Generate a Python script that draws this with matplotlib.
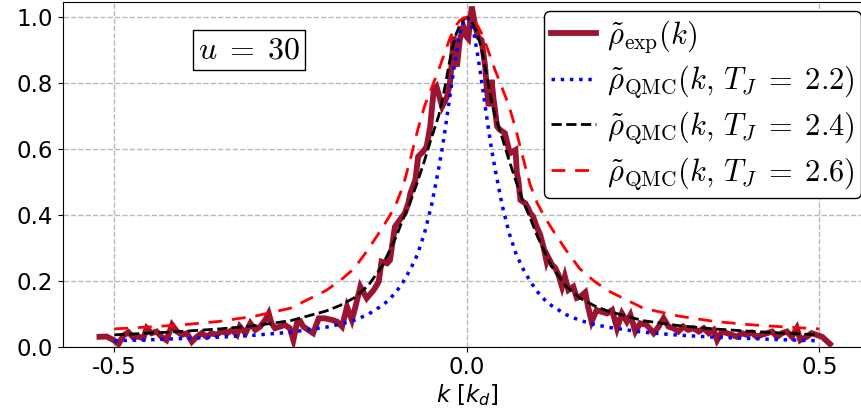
import numpy as np
import matplotlib
matplotlib.use("Agg")
import matplotlib.pyplot as plt

plt.rcParams["axes.unicode_minus"] = False
plt.rcParams["mathtext.fontset"] = "dejavusans"

# Measured momentum distribution (noisy)
k_exp = [-0.521, -0.511, -0.501, -0.494, -0.487, -0.480, -0.473, -0.466, -0.459, -0.454,
         -0.447, -0.440, -0.433, -0.426, -0.418, -0.411, -0.404, -0.397, -0.390, -0.383,
         -0.376, -0.369, -0.362, -0.355, -0.348, -0.340, -0.333, -0.326, -0.322, -0.314,
         -0.307, -0.300, -0.293, -0.286, -0.281, -0.277, -0.272, -0.265, -0.258, -0.251,
         -0.246, -0.241, -0.236, -0.232, -0.225, -0.218, -0.210, -0.201, -0.191, -0.184,
         -0.177, -0.170, -0.163, -0.158, -0.151, -0.142, -0.132, -0.125, -0.121, -0.113,
         -0.109, -0.104, -0.102, -0.095, -0.088, -0.083, -0.080, -0.073, -0.069, -0.062,
         -0.057, -0.052, -0.047, -0.043, -0.035, -0.028, -0.024, -0.021, -0.019, -0.014,
         -0.010, -0.005, 0.000, 0.002, 0.007, 0.012, 0.016, 0.021, 0.026, 0.028,
         0.031, 0.033, 0.035, 0.038, 0.043, 0.047, 0.054, 0.061, 0.069, 0.071,
         0.073, 0.076, 0.083, 0.087, 0.090, 0.094, 0.099, 0.104, 0.109, 0.113,
         0.115, 0.121, 0.125, 0.130, 0.135, 0.139, 0.144, 0.151, 0.156, 0.161,
         0.168, 0.172, 0.177, 0.184, 0.191, 0.199, 0.206, 0.213, 0.220, 0.227,
         0.232, 0.239, 0.246, 0.255, 0.265, 0.272, 0.279, 0.286, 0.293, 0.300,
         0.307, 0.314, 0.321, 0.329, 0.336, 0.343, 0.350, 0.355, 0.362, 0.369,
         0.376, 0.383, 0.390, 0.397, 0.404, 0.411, 0.418, 0.426, 0.433, 0.440,
         0.447, 0.454, 0.461, 0.468, 0.473, 0.477, 0.482, 0.489, 0.496, 0.504,
         0.508, 0.515]
rho_exp = [0.030, 0.031, 0.020, 0.008, 0.034, 0.044, 0.028, 0.031, 0.025, 0.056,
           0.041, 0.046, 0.030, 0.020, 0.066, 0.046, 0.036, 0.041, 0.015, 0.030,
           0.041, 0.030, 0.041, 0.036, 0.046, 0.041, 0.051, 0.036, 0.061, 0.041,
           0.071, 0.051, 0.061, 0.081, 0.101, 0.071, 0.056, 0.061, 0.066, 0.056,
           0.020, 0.071, 0.076, 0.061, 0.051, 0.041, 0.086, 0.086, 0.081, 0.076,
           0.061, 0.121, 0.081, 0.121, 0.182, 0.147, 0.172, 0.197, 0.258, 0.253,
           0.263, 0.334, 0.364, 0.385, 0.405, 0.435, 0.466, 0.506, 0.577, 0.592,
           0.607, 0.668, 0.779, 0.789, 0.729, 0.759, 0.800, 0.870, 0.941, 0.850,
           0.931, 0.972, 0.940, 0.935, 1.032, 0.972, 0.940, 0.930, 0.850, 0.790,
           0.730, 0.750, 0.810, 0.750, 0.668, 0.658, 0.648, 0.587, 0.597, 0.526,
           0.506, 0.445, 0.435, 0.420, 0.405, 0.395, 0.364, 0.340, 0.300, 0.260,
           0.273, 0.248, 0.240, 0.218, 0.182, 0.213, 0.172, 0.182, 0.148, 0.152,
           0.165, 0.121, 0.076, 0.111, 0.106, 0.101, 0.111, 0.056, 0.101, 0.076,
           0.096, 0.046, 0.071, 0.066, 0.041, 0.061, 0.086, 0.061, 0.056, 0.046,
           0.061, 0.051, 0.056, 0.046, 0.056, 0.041, 0.051, 0.020, 0.046, 0.041,
           0.036, 0.030, 0.041, 0.036, 0.043, 0.030, 0.036, 0.041, 0.046, 0.030,
           0.041, 0.046, 0.030, 0.056, 0.020, 0.025, 0.030, 0.041, 0.036, 0.030,
           0.022, 0.008]

# QMC momentum distributions at three temperatures
k_qmc = [-0.50, -0.45, -0.40, -0.35, -0.30, -0.25, -0.20, -0.18, -0.16, -0.14,
         -0.12, -0.11, -0.10, -0.09, -0.08, -0.07, -0.06, -0.05, -0.04, -0.035,
         -0.03, -0.025, -0.02, -0.015, -0.01, -0.005, 0.0, 0.005, 0.01, 0.015,
         0.02, 0.025, 0.03, 0.035, 0.04, 0.05, 0.06, 0.07, 0.08, 0.09,
         0.10, 0.11, 0.12, 0.14, 0.16, 0.18, 0.20, 0.25, 0.30, 0.35,
         0.40, 0.45, 0.50]
rho_qmc_22 = [0.018, 0.021, 0.025, 0.029, 0.035, 0.044, 0.059, 0.068, 0.080, 0.098,
              0.125, 0.143, 0.167, 0.198, 0.235, 0.280, 0.345, 0.430, 0.540, 0.600,
              0.670, 0.745, 0.820, 0.890, 0.950, 0.985, 1.000, 0.985, 0.950, 0.890,
              0.820, 0.745, 0.670, 0.600, 0.540, 0.430, 0.345, 0.280, 0.235, 0.198,
              0.167, 0.143, 0.125, 0.098, 0.080, 0.068, 0.059, 0.044, 0.035, 0.029,
              0.025, 0.021, 0.018]
rho_qmc_24 = [0.036, 0.041, 0.047, 0.054, 0.064, 0.079, 0.108, 0.125, 0.148, 0.185,
              0.245, 0.290, 0.335, 0.390, 0.440, 0.500, 0.565, 0.635, 0.700, 0.745,
              0.800, 0.860, 0.910, 0.950, 0.975, 0.992, 1.000, 0.992, 0.975, 0.950,
              0.910, 0.860, 0.800, 0.745, 0.700, 0.635, 0.565, 0.500, 0.440, 0.390,
              0.335, 0.290, 0.245, 0.185, 0.148, 0.125, 0.108, 0.079, 0.064, 0.054,
              0.047, 0.041, 0.036]
rho_qmc_26 = [0.054, 0.060, 0.067, 0.077, 0.093, 0.117, 0.170, 0.200, 0.237, 0.295,
              0.360, 0.395, 0.435, 0.490, 0.570, 0.655, 0.730, 0.785, 0.840, 0.870,
              0.900, 0.930, 0.955, 0.975, 0.990, 0.997, 1.000, 0.997, 0.990, 0.975,
              0.955, 0.930, 0.900, 0.870, 0.840, 0.785, 0.730, 0.655, 0.570, 0.490,
              0.435, 0.395, 0.360, 0.295, 0.237, 0.200, 0.170, 0.117, 0.093, 0.077,
              0.067, 0.060, 0.054]

x_ticks = [-0.5, 0.0, 0.5]
x_tick_labels = ["-0.5", "0.0", "0.5"]
y_ticks = [0.0, 0.2, 0.4, 0.6, 0.8, 1.0]

fig = plt.figure(figsize=(8.61, 4.15), dpi=100)
ax = fig.add_axes([0.0732, 0.1646, 0.938, 0.8306])

ax.plot(k_exp, rho_exp, color="#9b1432", lw=4.2, solid_joinstyle="miter",
        label=r"$\tilde{\rho}_{\mathrm{exp}}(k)$", zorder=3)
ax.plot(k_qmc, rho_qmc_22, color="#0000ff", lw=2.5, ls=":",
        label=r"$\tilde{\rho}_{\mathrm{QMC}}(k,\,T_J\;=\;2.2)$", zorder=4)
ax.plot(k_qmc, rho_qmc_24, color="black", lw=2.0, ls="--",
        label=r"$\tilde{\rho}_{\mathrm{QMC}}(k,\,T_J\;=\;2.4)$", zorder=4)
ax.plot(k_qmc, rho_qmc_26, color="#ff0000", lw=2.0, dashes=(5, 3.5),
        label=r"$\tilde{\rho}_{\mathrm{QMC}}(k,\,T_J\;=\;2.6)$", zorder=4)

ax.set_xlim(-0.5727, 0.5727)
ax.set_ylim(0.0, 1.046)
ax.set_xticks(x_ticks)
ax.set_xticklabels(x_tick_labels)
ax.set_yticks(y_ticks)
ax.tick_params(labelsize=16.5)
ax.grid(True, color="#b8b8b8", ls="--", lw=1.0)
ax.set_axisbelow(True)
ax.set_xlabel(r"$k\ [k_d]$", fontsize=16.5, labelpad=2)

ax.text(-0.309, 0.90, r"$u\;=\;30$", fontsize=23, ha="center", va="center",
        math_fontfamily="cm",
        bbox=dict(boxstyle="square,pad=0.15", fc="white", ec="black", lw=1.0))

leg = ax.legend(loc="upper right", prop={"size": 22, "math_fontfamily": "cm"},
                handlelength=1.5, handletextpad=0.35, borderpad=0.22,
                labelspacing=0.28, framealpha=1.0, edgecolor="black",
                borderaxespad=0.3)
leg.get_frame().set_linewidth(1.0)

fig.savefig("out.png", dpi=100)
